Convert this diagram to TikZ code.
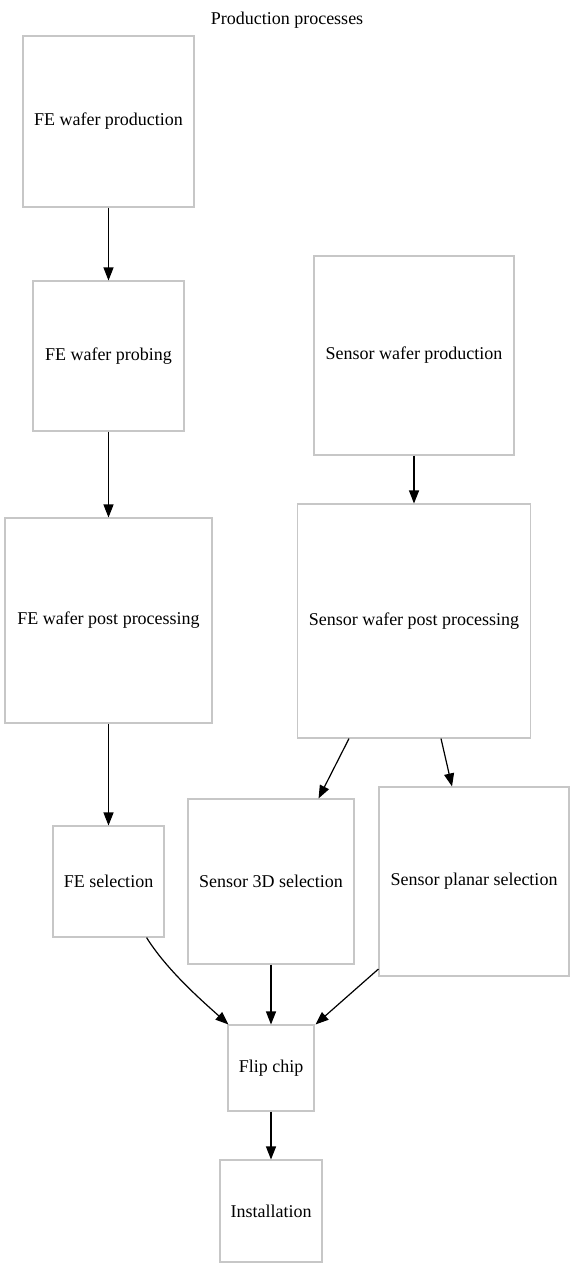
\documentclass[tikz,border=0pt]{standalone}
\usepackage{fontspec}
\setmainfont{Liberation Serif}
\usetikzlibrary{arrows.meta}
\begin{document}
\begin{tikzpicture}[x=1pt,y=-1pt,
  box/.style={draw=black!22,line width=1.1pt,inner sep=0pt,font=\fontsize{18pt}{21pt}\selectfont},
  edge/.style={line width=1.2pt,-{Triangle[length=13pt,width=10pt]}}]
\useasboundingbox[fill=white] (0,0) rectangle (575,1268);
\node[font=\fontsize{18pt}{21pt}\selectfont] (title) at (287,20) {Production processes};
\node[box,minimum width=171pt,minimum height=171pt] (fewp) at (108.5,121.5) {FE wafer production};
\node[box,minimum width=151pt,minimum height=150pt] (fepr) at (108.5,356) {FE wafer probing};
\node[box,minimum width=207pt,minimum height=205pt] (fepp) at (108.5,620.5) {FE wafer post processing};
\node[box,minimum width=111pt,minimum height=111pt] (fesel) at (108.5,881.5) {FE selection};
\node[box,minimum width=200pt,minimum height=199pt] (swp) at (414,355.5) {Sensor wafer production};
\node[box,minimum width=233pt,minimum height=234pt] (spp) at (414,621) {Sensor wafer post processing};
\node[box,minimum width=166pt,minimum height=165pt] (s3d) at (271,881.5) {Sensor 3D selection};
\node[box,minimum width=190pt,minimum height=189pt] (spl) at (474,881.5) {Sensor planar selection};
\node[box,minimum width=86pt,minimum height=86pt] (flip) at (271,1068) {Flip chip};
\node[box,minimum width=102pt,minimum height=102pt] (inst) at (271,1211) {Installation};
\draw[edge] (fewp.south) -- (fepr.north);
\draw[edge] (fepr.south) -- (fepp.north);
\draw[edge] (fepp.south) -- (fesel.north);
\draw[edge] (swp.south) -- (spp.north);
\draw[edge] ([xshift=-65pt]spp.south) -- ([xshift=-36pt]s3d.north east);
\draw[edge] ([xshift=27pt]spp.south) -- ([xshift=-22pt]spl.north);
\draw[edge] ([xshift=-18pt]fesel.south east) .. controls +(20,32) and +(-28,-25) .. ([xshift=1pt]flip.north west);
\draw[edge] (s3d.south) -- (flip.north);
\draw[edge] ([yshift=-87.5pt]spl.west) -- ([xshift=1pt]flip.north east);
\draw[edge] (flip.south) -- (inst.north);
\end{tikzpicture}
\end{document}
